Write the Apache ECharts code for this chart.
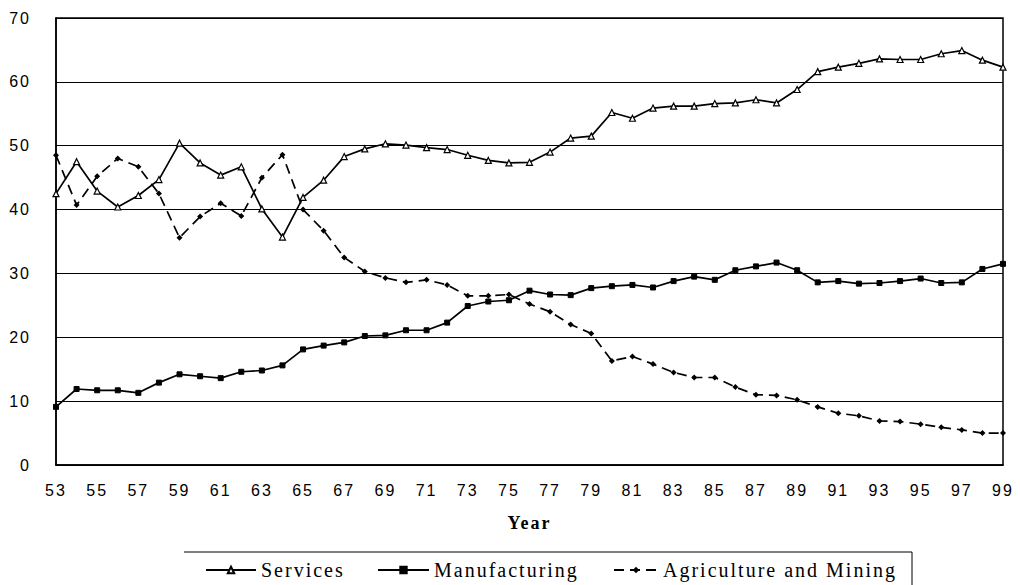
<!DOCTYPE html>
<html>
<head>
<meta charset="utf-8">
<script src="https://cdn.jsdelivr.net/npm/echarts@6/dist/echarts.min.js"></script>
<style>
  html, body { margin: 0; padding: 0; background: #fff; }
  #main { width: 1020px; height: 585px; }
  /* the scanned chart has widely spaced lettering */
  #main svg text { letter-spacing: 2px; }
</style>
</head>
<body>
<div id="main"></div>
<script>
  // years 53..99
  var years = ['53','54','55','56','57','58','59','60','61','62','63','64','65','66','67','68',
    '69','70','71','72','73','74','75','76','77','78','79','80','81','82','83','84',
    '85','86','87','88','89','90','91','92','93','94','95','96','97','98','99'];

  var services = [42.5,47.5,42.9,40.4,42.2,44.7,50.4,47.3,45.4,46.7,40.1,35.7,41.9,44.6,48.3,49.5,
    50.3,50.1,49.7,49.4,48.5,47.7,47.3,47.4,49.0,51.2,51.5,55.2,54.3,55.9,56.2,56.2,
    56.6,56.7,57.2,56.7,58.8,61.6,62.3,62.9,63.6,63.5,63.5,64.4,64.9,63.4,62.3];

  var manufacturing = [9.1,11.9,11.7,11.7,11.3,12.9,14.2,13.9,13.6,14.6,14.8,15.6,18.1,18.7,19.2,20.2,
    20.3,21.1,21.1,22.3,24.9,25.6,25.8,27.3,26.7,26.6,27.7,28.0,28.2,27.8,28.8,29.5,
    29.0,30.5,31.1,31.7,30.5,28.6,28.8,28.4,28.5,28.8,29.2,28.5,28.6,30.7,31.5];

  var agriculture = [48.5,40.7,45.2,48.0,46.7,42.5,35.6,38.9,41.0,39.0,45.0,48.6,40.0,36.7,32.5,30.3,
    29.3,28.6,29.0,28.2,26.5,26.5,26.7,25.2,24.0,22.0,20.6,16.3,17.0,15.8,14.5,13.7,
    13.7,12.2,11.0,10.9,10.2,9.1,8.1,7.7,6.9,6.8,6.4,5.9,5.5,5.0,5.0];

  var myChart = echarts.init(document.getElementById('main'), null, { renderer: 'svg' });

  var legendText = { color: '#000', fontFamily: 'Liberation Serif', fontSize: 20 };

  var option = {
    backgroundColor: '#fff',
    animation: false,
    grid: {
      left: 56, right: 17, top: 18, bottom: 120,
      show: true, borderColor: '#000', borderWidth: 1.5, backgroundColor: 'transparent'
    },
    legend: [
      { data: ['Services'], left: 200, top: 555, itemWidth: 50, itemHeight: 8, textStyle: legendText },
      { data: ['Manufacturing'], left: 372, top: 555, itemWidth: 51, itemHeight: 8, textStyle: legendText },
      { data: ['Agriculture and Mining'], left: 608, top: 555, itemWidth: 44, itemHeight: 8, textStyle: legendText }
    ],
    xAxis: {
      type: 'category',
      data: years,
      boundaryGap: false,
      name: 'Year',
      nameLocation: 'middle',
      nameGap: 49,
      nameTextStyle: { fontFamily: 'Liberation Serif', fontWeight: 'bold', fontSize: 18, color: '#000' },
      axisLine: { show: true, lineStyle: { color: '#000', width: 1.5 } },
      axisTick: { show: false },
      axisLabel: { interval: 1, margin: 17, color: '#000', fontFamily: 'Liberation Sans', fontSize: 16 },
      splitLine: { show: false }
    },
    yAxis: {
      type: 'value',
      min: 0, max: 70, interval: 10,
      axisLine: { show: true, lineStyle: { color: '#000', width: 1.5 } },
      axisTick: { show: false },
      axisLabel: { margin: 25, color: '#000', fontFamily: 'Liberation Sans', fontSize: 16 },
      splitLine: { show: true, lineStyle: { color: '#000', width: 1 } }
    },
    series: [
      {
        name: 'Services', type: 'line', data: services,
        symbol: 'triangle', symbolSize: 6,
        lineStyle: { color: '#000', width: 1.7 },
        itemStyle: { color: '#fff', borderColor: '#000', borderWidth: 1.2 }
      },
      {
        name: 'Manufacturing', type: 'line', data: manufacturing,
        symbol: 'rect', symbolSize: 5,
        lineStyle: { color: '#000', width: 1.7 },
        itemStyle: { color: '#000', borderColor: '#000', borderWidth: 1 }
      },
      {
        name: 'Agriculture and Mining', type: 'line', data: agriculture,
        symbol: 'diamond', symbolSize: 6,
        lineStyle: { color: '#000', width: 1.7, type: [10, 6] },
        itemStyle: { color: '#000', borderColor: '#000', borderWidth: 0 }
      }
    ],
    graphic: [
      {
        type: 'polyline',
        shape: { points: [[184, 552], [912, 552], [912, 585]] },
        style: { stroke: '#000', lineWidth: 1, fill: null }
      }
    ]
  };

  myChart.setOption(option);
  window.onresize = myChart.resize;
</script>
</body>
</html>
